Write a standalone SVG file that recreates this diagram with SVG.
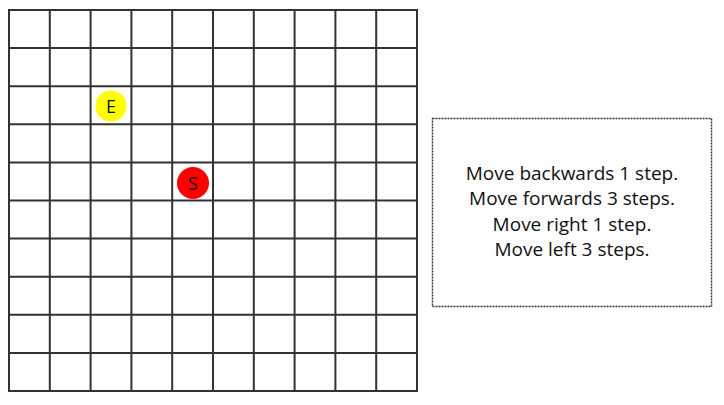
<svg xmlns="http://www.w3.org/2000/svg" width="724" height="405" viewBox="0 0 724 405">
<style>
.g{stroke:#333;stroke-width:2;fill:none}
.t{font-family:"Open Sans","Liberation Sans",sans-serif;font-size:19px;fill:#111;text-anchor:middle}
.l{font-family:"Open Sans","Liberation Sans",sans-serif;font-size:18px;fill:#111;text-anchor:middle}
</style>
<rect width="724" height="405" fill="#fff"/>
<g id="grid" class="g">
<rect x="9" y="10" width="408" height="381"/>
<path d="M49.8 10V391M90.6 10V391M131.4 10V391M172.2 10V391M213 10V391M253.8 10V391M294.6 10V391M335.4 10V391M376.2 10V391"/>
<path d="M9 48.1H417M9 86.2H417M9 124.3H417M9 162.4H417M9 200.5H417M9 238.6H417M9 276.7H417M9 314.8H417M9 352.9H417"/>
</g>
<g id="E">
<circle cx="111" cy="106" r="15.5" fill="#ffff00"/>
<text class="l" x="111" y="112.5">E</text>
</g>
<g id="S">
<circle cx="193" cy="183" r="16" fill="#ff0000"/>
<text class="l" x="193" y="189.5">S</text>
</g>
<g id="instructions">
<rect x="432.5" y="118.5" width="279" height="188" fill="none" stroke="#333" stroke-width="1.5" stroke-dasharray="2,1"/>
<text class="t" x="572" y="180">Move backwards 1 step.</text>
<text class="t" x="572" y="205">Move forwards 3 steps.</text>
<text class="t" x="572" y="231">Move right 1 step.</text>
<text class="t" x="572" y="256">Move left 3 steps.</text>
</g>
</svg>
